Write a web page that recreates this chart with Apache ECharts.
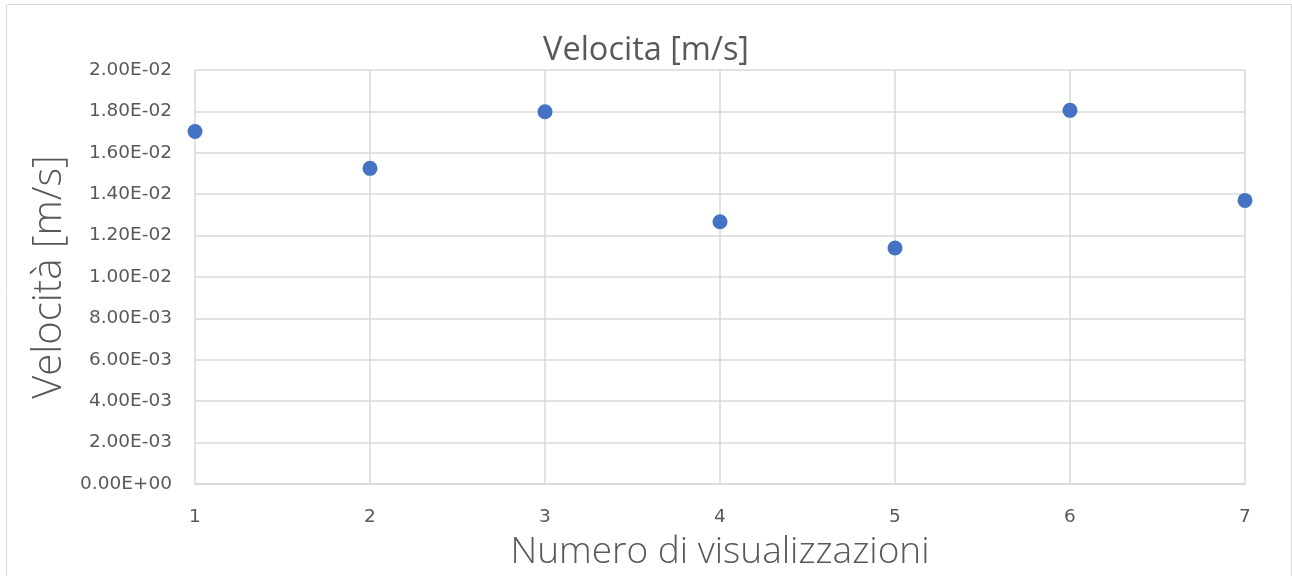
<!DOCTYPE html>
<html>
<head>
<meta charset="utf-8">
<script src="https://cdn.jsdelivr.net/npm/echarts@6/dist/echarts.min.js"></script>
<style>
  html, body { margin: 0; padding: 0; background: #fff; }
  #chart { width: 1292px; height: 576px; }
</style>
</head>
<body>
<div id="chart"></div>
<script>
// Measurement index and measured speed [m/s]
const visualizzazioni = [1, 2, 3, 4, 5, 6, 7];
const velocita = [0.01703, 0.01525, 0.01798, 0.01267, 0.01140, 0.01805, 0.01370];

const xTicks = { min: 1, max: 7, step: 1 };
const yTicks = { min: 0, max: 0.02, step: 0.002 };

// Excel-style scientific label, e.g. 2.00E-02
function sci(v) {
  const s = Number(v).toExponential(2).toUpperCase();
  const m = s.match(/^(-?[\d.]+)E([+-])(\d+)$/);
  if (!m) return s;
  return m[1] + 'E' + m[2] + m[3].padStart(2, '0');
}

const textColor = '#595959';
const gridColor = '#d9d9d9';
const tickFont = { fontFamily: 'DejaVu Sans', fontSize: 18.5, color: textColor };

const chart = echarts.init(document.getElementById('chart'), null, { renderer: 'canvas' });
chart.setOption({
  animation: false,
  backgroundColor: '#ffffff',
  title: {
    text: 'Velocita [m/s]',
    left: 'center',
    top: 29,
    textStyle: { fontFamily: 'Open Sans', fontSize: 32.5, fontWeight: 'normal', color: textColor }
  },
  graphic: [{
    type: 'rect',
    shape: { x: 6.5, y: 4.5, width: 1285, height: 590 },
    style: { fill: 'none', stroke: gridColor, lineWidth: 1 },
    silent: true
  }],
  grid: { left: 195, right: 47, top: 70, bottom: 92, containLabel: false },
  xAxis: {
    type: 'value',
    min: xTicks.min,
    max: xTicks.max,
    interval: xTicks.step,
    name: 'Numero di visualizzazioni',
    nameLocation: 'middle',
    nameGap: 50,
    nameTextStyle: { fontFamily: 'Open Sans', fontWeight: 300, fontSize: 37, color: textColor },
    axisLine: { show: true, lineStyle: { color: gridColor, width: 1.5 } },
    axisTick: { show: false },
    axisLabel: Object.assign({ margin: 24 }, tickFont),
    splitLine: { show: true, lineStyle: { color: gridColor, width: 1.5 } }
  },
  yAxis: {
    type: 'value',
    min: yTicks.min,
    max: yTicks.max,
    interval: yTicks.step,
    name: 'Velocità [m/s]',
    nameLocation: 'middle',
    nameGap: 115,
    nameTextStyle: { fontFamily: 'Open Sans', fontWeight: 300, fontSize: 40, color: textColor },
    axisLine: { show: false },
    axisTick: { show: false },
    axisLabel: Object.assign({ margin: 23, formatter: sci }, tickFont),
    splitLine: { show: true, lineStyle: { color: gridColor, width: 1.5 } }
  },
  series: [{
    type: 'scatter',
    symbol: 'circle',
    symbolSize: 15,
    itemStyle: { color: '#4472C4', opacity: 1 },
    data: visualizzazioni.map((x, i) => [x, velocita[i]])
  }]
});
</script>
</body>
</html>
